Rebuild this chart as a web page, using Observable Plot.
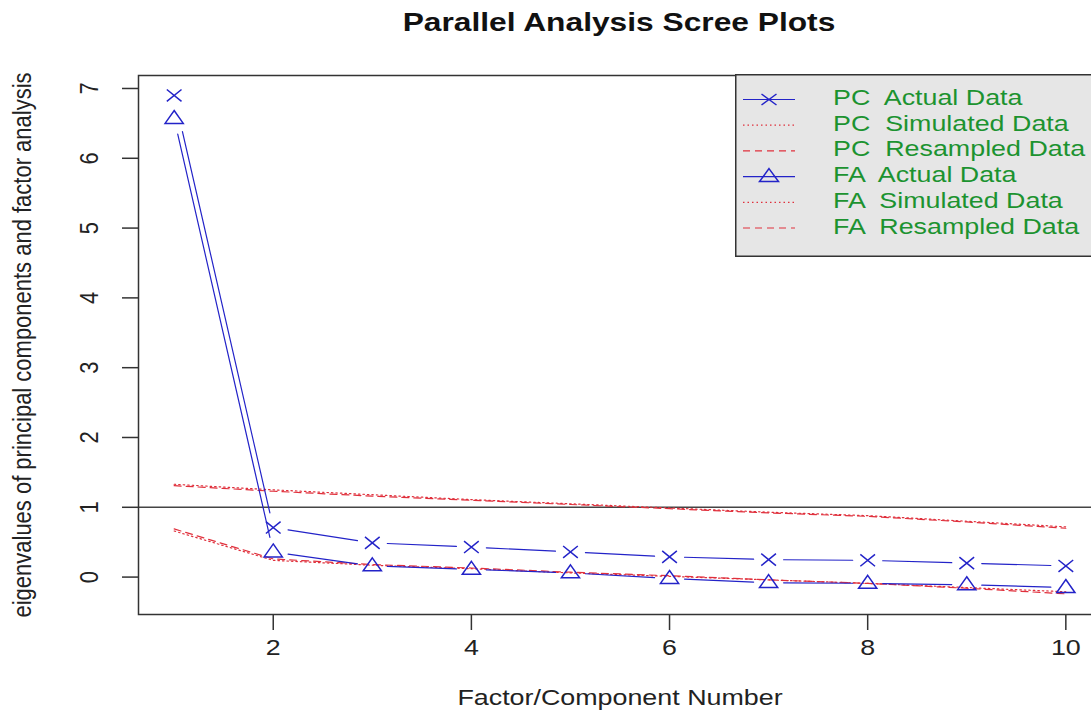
<!DOCTYPE html>
<html><head><meta charset="utf-8">
<script src="https://cdn.jsdelivr.net/npm/d3@7"></script>
<script src="https://cdn.jsdelivr.net/npm/@observablehq/plot@0.6"></script>
<style>
html,body{margin:0;padding:0;background:#fff;overflow:hidden;width:1091px;height:720px;}
#wrap{position:relative;width:1101px;height:720px;}
#title{position:absolute;left:619px;top:9px;font:bold 26px "Liberation Sans",Arial,sans-serif;line-height:26px;white-space:nowrap;transform:translateX(-50%) scaleX(1.22);color:#111;}
#chart{position:absolute;left:0;top:50px;}
#legend{position:absolute;left:735px;top:74px;}
</style></head><body>
<div id="wrap"><div id="title"></div><div id="chart"></div><div id="legend"></div></div>
<script>
// ---- data ----
const titleText = "Parallel Analysis Scree Plots";
const xLabel = "Factor/Component Number";
const yLabel = "eigenvalues of principal components and factor analysis";
const component   = [1, 2, 3, 4, 5, 6, 7, 8, 9, 10];
const pcActual    = [6.90, 0.71, 0.49, 0.43, 0.36, 0.29, 0.25, 0.24, 0.20, 0.16];
const faActual    = [6.57, 0.36, 0.16, 0.11, 0.06, -0.02, -0.08, -0.09, -0.11, -0.15];
const pcSimulated = [1.33, 1.25, 1.18, 1.11, 1.05, 0.99, 0.93, 0.88, 0.80, 0.72];
const pcResampled = [1.31, 1.23, 1.16, 1.10, 1.04, 0.98, 0.92, 0.87, 0.79, 0.70];
const faSimulated = [0.66, 0.24, 0.17, 0.12, 0.06, 0.01, -0.04, -0.09, -0.15, -0.21];
const faResampled = [0.69, 0.26, 0.18, 0.13, 0.07, 0.02, -0.04, -0.09, -0.16, -0.24];
const xTicks = [2, 4, 6, 8, 10];
const yTicks = [0, 1, 2, 3, 4, 5, 6, 7];
const referenceLine = [1];
const legendLabels = ["PC  Actual Data", "PC  Simulated Data", "PC  Resampled Data",
                      "FA  Actual Data", "FA  Simulated Data", "FA  Resampled Data"];

// ---- styles ----
const BLUE = "#2323c8", RED = "#e0303c", GREEN = "#1c9330", INK = "#222";
const DOT = "1.5,3", DASH = "7,5";
const font = '"Liberation Sans", Arial, sans-serif';

// custom symbols (R pch 4 and pch 2, slightly wide)
const timesSym = {draw(ctx, size) { const r = Math.sqrt(size / Math.PI); const w = r * 1.05, h = r * 0.85;
  ctx.moveTo(-w, -h); ctx.lineTo(w, h); ctx.moveTo(-w, h); ctx.lineTo(w, -h); }};
const triSym = {draw(ctx, size) { const r = Math.sqrt(size / Math.PI); const w = r * 1.3, h = r * 1.85;
  ctx.moveTo(0, -h * 0.62); ctx.lineTo(w, h * 0.38); ctx.lineTo(-w, h * 0.38); ctx.closePath(); }};

const rows = component.map((c, i) => ({c, pcA: pcActual[i], faA: faActual[i],
  pcS: pcSimulated[i], pcR: pcResampled[i], faS: faSimulated[i], faR: faResampled[i]}));
const segs = vals => component.slice(0, -1).map((c, i) => ({x1: c, y1: vals[i], x2: component[i + 1], y2: vals[i + 1]}));
const pcSegs = segs(pcActual), faSegs = segs(faActual);
const seg = (data, opts) => Plot.arrow(data, {x1: "x1", y1: "y1", x2: "x2", y2: "y2", stroke: BLUE, strokeWidth: 1.2,
  headLength: 0, bend: false, ...opts});

const svg = Plot.plot({
  width: 1101, height: 670,
  marginLeft: 138, marginRight: 0, marginTop: 25, marginBottom: 106,
  style: {fontFamily: font, fontSize: "22px", background: "transparent", overflow: "visible"},
  x: {domain: [0.64, 10.36], axis: null},
  y: {domain: [-0.536, 7.186], axis: null},
  marks: [
    Plot.ruleY(referenceLine, {stroke: "#444", strokeWidth: 1.4}),
    Plot.line(rows, {x: "c", y: "pcS", stroke: RED, strokeWidth: 1.2, strokeDasharray: DOT}),
    Plot.line(rows, {x: "c", y: "pcR", stroke: RED, strokeWidth: 1.2, strokeDasharray: DASH}),
    Plot.line(rows, {x: "c", y: "faS", stroke: RED, strokeWidth: 1.2, strokeDasharray: DOT}),
    Plot.line(rows, {x: "c", y: "faR", stroke: RED, strokeWidth: 1.2, strokeDasharray: DASH}),
    seg(pcSegs.slice(0, 1), {insetStart: 37, insetEnd: 15}),
    seg(pcSegs.slice(1), {insetStart: 15, insetEnd: 15}),
    seg(faSegs.slice(0, 1), {insetStart: 16, insetEnd: 15}),
    seg(faSegs.slice(1), {insetStart: 15, insetEnd: 15}),
    Plot.dot(rows, {x: "c", y: "pcA", symbol: timesSym, r: 7, stroke: BLUE, strokeWidth: 1.5}),
    Plot.dot(rows, {x: "c", y: "faA", symbol: triSym, r: 7, stroke: BLUE, strokeWidth: 1.5, fill: "none"}),
    Plot.frame({stroke: "#333", strokeWidth: 1.5}),
    Plot.axisX({ticks: xTicks, tickSize: 16, tickFormat: () => "", label: null, stroke: "#333", strokeWidth: 1.5}),
    Plot.axisY({ticks: yTicks, tickSize: 16, tickFormat: () => "", label: null, stroke: "#333", strokeWidth: 1.5}),
    Plot.text(xTicks, {x: d => d, text: d => String(d), frameAnchor: "bottom", dy: 40, fill: INK, fontSize: 22}),
    Plot.text(yTicks, {y: d => d, text: d => String(d), frameAnchor: "left", dx: -49, rotate: -90,
      textAnchor: "middle", lineAnchor: "middle", fill: INK, fontSize: 22}),
    Plot.text([xLabel], {text: d => d, frameAnchor: "bottom", dy: 90, fill: INK, fontSize: 22}),
    Plot.text([yLabel], {text: d => d, frameAnchor: "left", dx: -116, rotate: -90,
      textAnchor: "middle", lineAnchor: "middle", fill: INK, fontSize: 22})
  ]
});
document.getElementById("chart").append(svg);
document.getElementById("title").textContent = titleText;

// ---- legend ----
const lg = d3.select("#legend").append("svg").attr("width", 370).attr("height", 186)
  .style("overflow", "visible").style("font-family", font);
lg.append("rect").attr("x", 0.75).attr("y", 0.75).attr("width", 400).attr("height", 181.5)
  .attr("fill", "#e6e6e6").attr("stroke", "#333").attr("stroke-width", 1.5);
const lstyle = [
  {stroke: BLUE, dash: null, sym: "x"}, {stroke: RED, dash: DOT}, {stroke: RED, dash: DASH},
  {stroke: BLUE, dash: null, sym: "tri"}, {stroke: RED, dash: DOT}, {stroke: RED, dash: DASH}];
legendLabels.forEach((lab, i) => {
  const cy = 25.5 + i * 25.7;
  const s = lstyle[i];
  lg.append("line").attr("x1", 8).attr("x2", 60).attr("y1", cy).attr("y2", cy)
    .attr("stroke", s.stroke).attr("stroke-width", 1.2).attr("stroke-dasharray", s.dash);
  if (s.sym === "x") lg.append("path").attr("d", "M26.5,20L41.5,31M26.5,31L41.5,20").attr("transform", "translate(0," + (cy - 25.5) + ")")
    .attr("stroke", BLUE).attr("stroke-width", 1.5).attr("fill", "none");
  if (s.sym === "tri") lg.append("path").attr("d", "M34," + (cy - 8) + "L43.5," + (cy + 5) + "L24.5," + (cy + 5) + "Z")
    .attr("stroke", BLUE).attr("stroke-width", 1.5).attr("fill", "none");
  lg.append("text").attr("x", 98).attr("y", 31 + i * 25.7).attr("fill", GREEN).attr("font-size", 22)
    .style("white-space", "pre").text(lab);
});

// ---- horizontal stretch of the reference's text ----
function stretch(root) {
  root.querySelectorAll("text").forEach(t => {
    const tr = (t.getAttribute("transform") || "");
    if (/rotate/.test(tr)) { t.setAttribute("transform", tr + " scale(1,1.2)"); return; }
    const L = t.getComputedTextLength();
    if (L > 0) { t.setAttribute("textLength", (L * 1.22).toFixed(1)); t.setAttribute("lengthAdjust", "spacingAndGlyphs"); }
  });
}
stretch(svg);
stretch(document.querySelector("#legend svg"));
</script>
</body></html>
